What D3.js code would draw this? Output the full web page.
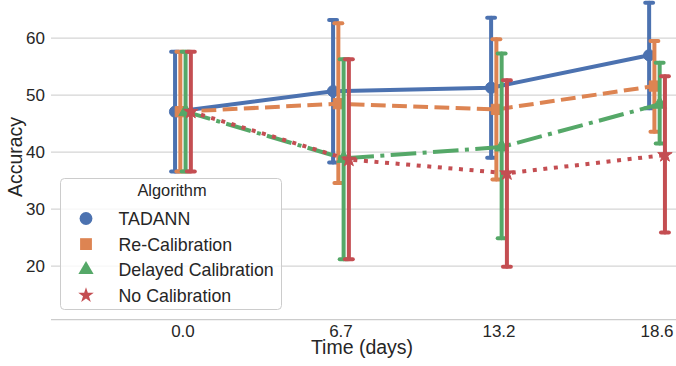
<!DOCTYPE html>
<html>
<head>
<meta charset="utf-8">
<script src="https://cdn.jsdelivr.net/npm/d3@7"></script>
<style>
  body { margin: 0; background: #fff; }
  text { font-family: "Liberation Sans", Arial, sans-serif; fill: #262626; }
</style>
</head>
<body>
<svg id="chart" width="676" height="366"></svg>
<script>
// categories
var times = ["0.0", "6.7", "13.2", "18.6"];
var algorithms = ["TADANN", "Re-Calibration", "Delayed Calibration", "No Calibration"];
var yTicks = [20, 30, 40, 50, 60];

// series values (mean, lower and upper end of the error bar)
var tadannMean  = [47.1, 50.7, 51.3, 57.0];
var tadannLow   = [36.6, 38.2, 39.0, 47.7];
var tadannHigh  = [57.6, 63.2, 63.6, 66.2];
var recalMean   = [47.1, 48.5, 47.5, 51.6];
var recalLow    = [36.6, 34.6, 35.2, 43.6];
var recalHigh   = [57.6, 62.6, 59.8, 59.5];
var delayedMean = [47.1, 38.9, 40.9, 48.4];
var delayedLow  = [36.6, 21.2, 24.9, 41.5];
var delayedHigh = [57.6, 56.3, 57.3, 55.7];
var nocalMean   = [47.1, 38.7, 36.3, 39.5];
var nocalLow    = [36.6, 21.2, 19.9, 25.9];
var nocalHigh   = [57.6, 56.3, 52.6, 53.3];

var colors = ["#4C72B0", "#DD8452", "#55A868", "#C44E52"];
var dashes = [null, "14.8,6.4", "25.6,6.4,4,6.4", "4,6.6"];
var symbols = [d3.symbolCircle, d3.symbolSquare, d3.symbolTriangle, d3.symbolStar];
var plotSizes = [100, 105, 80, 65];
var legendSizes = [130, 140, 100, 75];

var series = algorithms.map(function(name, j) {
  var m = [tadannMean, recalMean, delayedMean, nocalMean][j];
  var lo = [tadannLow, recalLow, delayedLow, nocalLow][j];
  var hi = [tadannHigh, recalHigh, delayedHigh, nocalHigh][j];
  return { name: name, j: j, pts: times.map(function(t, i) { return { i: i, mean: m[i], lo: lo[i], hi: hi[i] }; }) };
});

var svg = d3.select("#chart");
var plotLeft = 51, plotRight = 676, plotTop = 0, plotBottom = 319.7;

// categorical positions with seaborn style dodge
var x = d3.scaleLinear().domain([-0.835, 3.12]).range([plotLeft, plotRight]);
var y = d3.scaleLinear().domain([10.6, 66.7]).range([plotBottom, plotTop]);
var dodge = d3.scaleLinear().domain([0, 3]).range([-0.05, 0.05]);
var cap = 0.025;

// grid
svg.append("g").selectAll("line").data(yTicks).enter().append("line")
  .attr("x1", plotLeft).attr("x2", plotRight)
  .attr("y1", function(d) { return y(d); }).attr("y2", function(d) { return y(d); })
  .attr("stroke", "#d5d5d5").attr("stroke-width", 1.3);

// bottom spine
svg.append("line").attr("x1", plotLeft).attr("x2", plotRight).attr("y1", plotBottom).attr("y2", plotBottom)
  .attr("stroke", "#cccccc").attr("stroke-width", 1.3);

// tick labels
svg.append("g").selectAll("text").data(yTicks).enter().append("text")
  .attr("x", 45).attr("y", function(d) { return y(d); }).attr("dy", "0.36em")
  .attr("text-anchor", "end").style("font-size", "17px").text(function(d) { return d; });
svg.append("g").selectAll("text").data(times).enter().append("text")
  .attr("x", function(d, i) { return x(i); }).attr("y", 336.5)
  .attr("text-anchor", "middle").style("font-size", "17px").text(function(d) { return d; });

// axis labels
svg.append("text").attr("x", 362).attr("y", 354).attr("text-anchor", "middle")
  .style("font-size", "19.5px").text("Time (days)");
svg.append("text").attr("transform", "translate(21.5,157) rotate(-90)").attr("text-anchor", "middle")
  .style("font-size", "19.5px").text("Accuracy");

// series: line, error bars, markers (each hue drawn on top of the previous)
var line = d3.line().x(function(d) { return d.px; }).y(function(d) { return y(d.mean); });
series.forEach(function(s) {
  var g = svg.append("g");
  var off = dodge(s.j);
  s.pts.forEach(function(p) { p.px = x(p.i + off); });
  g.append("path").attr("d", line(s.pts)).attr("fill", "none")
    .attr("stroke", colors[s.j]).attr("stroke-width", 4)
    .attr("stroke-dasharray", dashes[s.j]);
  var eb = g.selectAll(".eb").data(s.pts).enter().append("g")
    .attr("stroke", colors[s.j]).attr("stroke-width", 4).attr("stroke-linecap", "round");
  eb.append("line").attr("x1", function(d) { return d.px; }).attr("x2", function(d) { return d.px; })
    .attr("y1", function(d) { return y(d.lo); }).attr("y2", function(d) { return y(d.hi); });
  eb.append("line").attr("x1", function(d) { return x(d.i + off - cap); }).attr("x2", function(d) { return x(d.i + off + cap); })
    .attr("y1", function(d) { return y(d.lo); }).attr("y2", function(d) { return y(d.lo); });
  eb.append("line").attr("x1", function(d) { return x(d.i + off - cap); }).attr("x2", function(d) { return x(d.i + off + cap); })
    .attr("y1", function(d) { return y(d.hi); }).attr("y2", function(d) { return y(d.hi); });
  g.selectAll(".pt").data(s.pts).enter().append("path")
    .attr("transform", function(d) { return "translate(" + d.px + "," + y(d.mean) + ")"; })
    .attr("d", d3.symbol().type(symbols[s.j]).size(plotSizes[s.j]))
    .attr("fill", colors[s.j]).attr("stroke", colors[s.j]).attr("stroke-width", 1);
});

// legend
var legend = svg.append("g");
legend.append("rect").attr("x", 60.5).attr("y", 178.5).attr("width", 221).attr("height", 131)
  .attr("rx", 4).attr("fill", "#fff").attr("fill-opacity", 0.8).attr("stroke", "#cccccc");
legend.append("text").attr("x", 172).attr("y", 196).attr("text-anchor", "middle")
  .style("font-size", "16.4px").text("Algorithm");
var rows = legend.selectAll(".row").data(algorithms).enter().append("g")
  .attr("transform", function(d, i) { return "translate(0," + (218.5 + i * 25.6) + ")"; });
rows.append("path").attr("transform", "translate(86,0)")
  .attr("d", function(d, i) { return d3.symbol().type(symbols[i]).size(legendSizes[i])(); })
  .attr("fill", function(d, i) { return colors[i]; });
rows.append("text").attr("x", 118.5).attr("y", 0).attr("dy", "0.36em")
  .style("font-size", "17.8px").text(function(d) { return d; });
</script>
</body>
</html>
